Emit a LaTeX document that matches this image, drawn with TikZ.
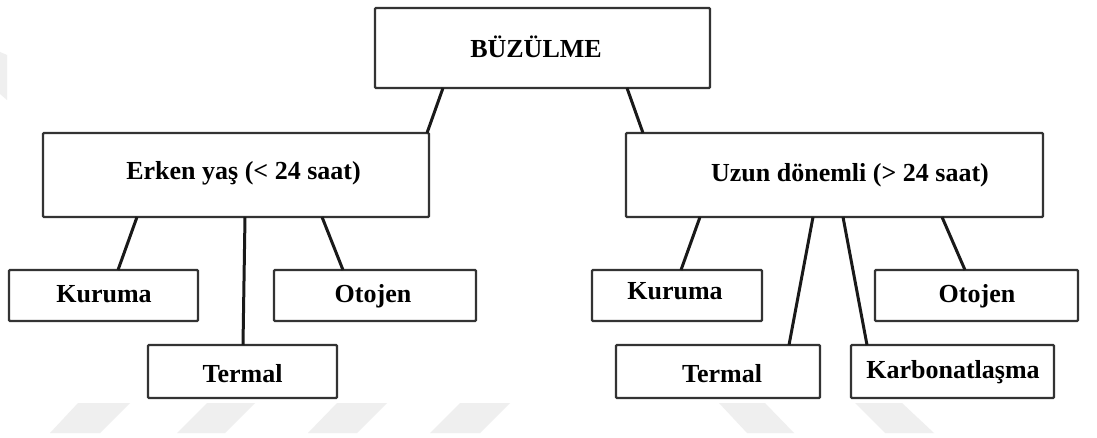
\documentclass[tikz,border=0pt]{standalone}
\usepackage{fontspec}
\setmainfont{Liberation Serif}
\usetikzlibrary{calc}
\definecolor{wm}{HTML}{EFEFEF}
\definecolor{boxline}{HTML}{333333}
\tikzset{
  box/.style={draw=boxline, line width=2.2pt, rectangle, rounded corners=1pt, inner sep=0pt, outer sep=0pt},
  txt/.style={font=\fontsize{26}{30}\selectfont\bfseries, inner sep=0pt, anchor=base, text=black},
  conn/.style={draw=black!90, line width=3pt},
  wmshape/.style={fill=wm, draw=none}
}
\begin{document}
\begin{tikzpicture}[x=1pt,y=-1pt]
\useasboundingbox (0,0) rectangle (1097,438);
\fill[white] (0,0) rectangle (1097,438);
% watermark shapes
\fill[wmshape] (78,403) -- (130,403) -- (100,433) -- (50,433) -- cycle;
\fill[wmshape] (207,403) -- (255,403) -- (225,433) -- (177,433) -- cycle;
\fill[wmshape] (337,403) -- (387,403) -- (357,433) -- (308,433) -- cycle;
\fill[wmshape] (460,403) -- (510,403) -- (480,433) -- (430,433) -- cycle;
\fill[wmshape] (719,403) -- (765,403) -- (794,433) -- (747,433) -- cycle;
\fill[wmshape] (855,403) -- (902,403) -- (934,433) -- (885,433) -- cycle;
\fill[wmshape] (0,52) -- (7,55) -- (7,100) -- (0,94) -- cycle;
% boxes
\node[box, minimum width=335pt, minimum height=80pt] (root) at (542.5,48) {};
\node[box, minimum width=386pt, minimum height=84pt] (early) at (236,175) {};
\node[box, minimum width=417pt, minimum height=84pt] (long) at (834.5,175) {};
\node[box, minimum width=189pt, minimum height=51pt] (ekur) at (103.5,295.5) {};
\node[box, minimum width=202pt, minimum height=51pt] (eoto) at (375,295.5) {};
\node[box, minimum width=189pt, minimum height=53pt] (eter) at (242.5,371.5) {};
\node[box, minimum width=170pt, minimum height=51pt] (lkur) at (677,295.5) {};
\node[box, minimum width=203pt, minimum height=51pt] (loto) at (976.5,295.5) {};
\node[box, minimum width=204pt, minimum height=53pt] (lter) at (718,371.5) {};
\node[box, minimum width=203pt, minimum height=53pt] (lkar) at (952.5,371.5) {};
% texts
\node[txt] (troot) at (536,58) {BÜZÜLME};
\node[txt] (tearly) at (243.5,180) {Erken yaş (< 24 saat)};
\node[txt] (tlong) at (850,182) {Uzun dönemli (> 24 saat)};
\node[txt] (tekur) at (104,302) {Kuruma};
\node[txt] (teoto) at (373,302) {Otojen};
\node[txt] (teter) at (242.5,382) {Termal};
\node[txt] (tlkur) at (675,299) {Kuruma};
\node[txt] (tloto) at (977,302) {Otojen};
\node[txt] (tlter) at (722,382) {Termal};
\node[txt] (tlkar) at (953,378) {Karbonatlaşma};
% connectors
\draw[conn] ([xshift=68pt]root.south west) -- ([xshift=384pt]early.north west);
\draw[conn] ([xshift=252pt]root.south west) -- ([xshift=17pt]long.north west);
\draw[conn] ([xshift=94pt]early.south west) -- ([xshift=109pt]ekur.north west);
\draw[conn] ([xshift=202pt]early.south west) -- ([xshift=95pt]eter.north west);
\draw[conn] ([xshift=279pt]early.south west) -- ([xshift=69pt]eoto.north west);
\draw[conn] ([xshift=74pt]long.south west) -- ([xshift=89pt]lkur.north west);
\draw[conn] ([xshift=187pt]long.south west) -- ([xshift=173pt]lter.north west);
\draw[conn] ([xshift=217pt]long.south west) -- ([xshift=16pt]lkar.north west);
\draw[conn] ([xshift=316pt]long.south west) -- ([xshift=90pt]loto.north west);
\end{tikzpicture}
\end{document}
